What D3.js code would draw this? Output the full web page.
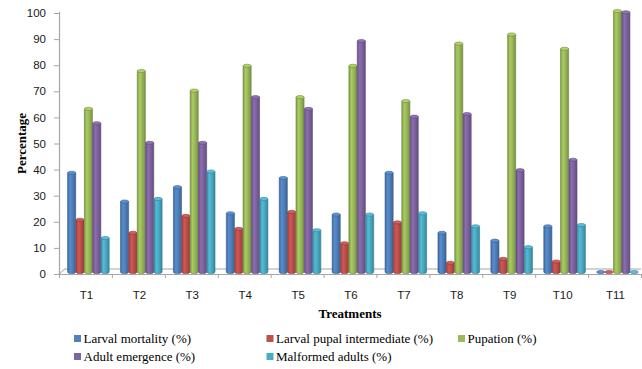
<!DOCTYPE html>
<html>
<head>
<meta charset="utf-8">
<script src="https://cdn.jsdelivr.net/npm/d3@7"></script>
<style>
  html, body { margin: 0; padding: 0; background: #fff; }
  svg { display: block; }
</style>
</head>
<body>
<svg id="chart" width="642" height="369"></svg>
<script>
// Treatment groups and the five measured responses (%)
const categories = ["T1", "T2", "T3", "T4", "T5", "T6", "T7", "T8", "T9", "T10", "T11"];
const seriesNames = ["Larval mortality (%)", "Larval pupal intermediate (%)", "Pupation (%)",
                     "Adult emergence (%)", "Malformed adults (%)"];
const larvalMortality   = [38, 27, 32.5, 22.5, 36, 22, 38, 15, 12, 17.5, 0];
const larvalPupal       = [20, 15, 21.5, 16.5, 23, 11, 19, 3.5, 5, 4, 0];
const pupation          = [62.5, 77, 69.5, 79, 67, 79, 65.5, 87.5, 91, 85.5, 100];
const adultEmergence    = [57, 49.5, 49.5, 67, 62.5, 88.5, 59.5, 60.5, 39, 43, 99.5];
const malformedAdults   = [13, 28, 38.5, 28, 16, 22, 22.5, 17.5, 9.5, 18, 0];
const yTicks = [0, 10, 20, 30, 40, 50, 60, 70, 80, 90, 100];

(function () {
const seriesValues = [larvalMortality, larvalPupal, pupation, adultEmergence, malformedAdults];
const palette = ["#4F81BD", "#C0504D", "#9BBB59", "#8064A2", "#4BACC6"];
const sansFont = "'Liberation Sans', Arial, sans-serif";
const serifFont = "'Liberation Serif', 'Times New Roman', serif";

const svg = d3.select("#chart");
const plotLeft = 59, plotRight = 641, plotTop = 13, plotBottom = 274;
const depth = 5;      // floor depth of the 3-D look
const lift = 2;       // cylinders stand in the middle of the floor
const capR = 1.6;     // vertical radius of cylinder caps

const x = d3.scaleBand().domain(categories).range([plotLeft, plotRight]);
const inner = d3.scaleBand().domain(d3.range(seriesNames.length))
  .range([8.6, 50.2]).paddingInner(0.03);
const y = d3.scaleLinear().domain([0, 100]).range([plotBottom, plotTop]);

// gradients for the cylinder bodies
const defs = svg.append("defs");
palette.forEach((c, i) => {
  const base = d3.color(c);
  const g = defs.append("linearGradient").attr("id", "cyl" + i)
    .attr("x1", "0%").attr("x2", "100%").attr("y1", "0%").attr("y2", "0%");
  g.append("stop").attr("offset", "0%").attr("stop-color", base.darker(0.6));
  g.append("stop").attr("offset", "30%").attr("stop-color", base.brighter(0.25));
  g.append("stop").attr("offset", "55%").attr("stop-color", base);
  g.append("stop").attr("offset", "100%").attr("stop-color", base.darker(0.7));
});

// floor and axes
const axisColor = "#a6a6a6";
svg.append("path")
  .attr("d", `M${plotLeft},${plotBottom} L${plotLeft + depth + 1},${plotBottom - depth} L${plotRight},${plotBottom - depth}`)
  .attr("fill", "none").attr("stroke", "#c4c4c4").attr("stroke-width", 1.6);
svg.append("line").attr("x1", plotLeft).attr("x2", plotRight).attr("y1", plotBottom + 0.5).attr("y2", plotBottom + 0.5)
  .attr("stroke", axisColor).attr("stroke-width", 1.2);
svg.append("line").attr("x1", plotLeft + 0.5).attr("x2", plotLeft + 0.5).attr("y1", plotTop - 1).attr("y2", plotBottom + 0.5)
  .attr("stroke", axisColor).attr("stroke-width", 1.2);

// y ticks and labels
const yAxis = svg.append("g");
yTicks.forEach(t => {
  yAxis.append("line").attr("x1", plotLeft - 5).attr("x2", plotLeft).attr("y1", y(t) + 0.5).attr("y2", y(t) + 0.5)
    .attr("stroke", axisColor).attr("stroke-width", 1);
  yAxis.append("text").attr("x", 46).attr("y", y(t)).attr("dy", "0.36em")
    .attr("text-anchor", "end")
    .attr("font-family", sansFont).attr("font-size", 11.5)
    .attr("fill", "#1a1a1a").text(t);
});

// x ticks at category boundaries and labels
const bounds = categories.map(c => x(c)).concat([plotRight]);
bounds.forEach(b => {
  svg.append("line").attr("x1", b + 0.5).attr("x2", b + 0.5).attr("y1", plotBottom).attr("y2", plotBottom + 4)
    .attr("stroke", axisColor).attr("stroke-width", 1);
});
categories.forEach(c => {
  svg.append("text").attr("x", x(c) + x.bandwidth() / 2 + 1).attr("y", 299)
    .attr("text-anchor", "middle")
    .attr("font-family", sansFont).attr("font-size", 11.5)
    .attr("fill", "#1a1a1a").text(c);
});

// cylinders
const bars = svg.append("g");
categories.forEach((c, ci) => {
  seriesValues.forEach((vals, si) => {
    const v = vals[ci];
    const x0 = x(c) + inner(si);
    const w = inner.bandwidth();
    const yTop = y(v) - lift;
    const yBase = y(0) - lift;
    const base = d3.color(palette[si]);
    const g = bars.append("g");
    if (yBase - yTop > 0.5) {
      g.append("path")
        .attr("d", `M${x0},${yTop} L${x0},${yBase} A${w / 2},${capR} 0 0 0 ${x0 + w},${yBase} L${x0 + w},${yTop} Z`)
        .attr("fill", `url(#cyl${si})`)
        .attr("stroke", base.darker(0.9)).attr("stroke-width", 0.6);
    }
    g.append("ellipse").attr("cx", x0 + w / 2).attr("cy", yTop).attr("rx", w / 2).attr("ry", capR)
      .attr("fill", base.brighter(0.35))
      .attr("stroke", base.darker(0.9)).attr("stroke-width", 0.6);
  });
});

// axis titles
svg.append("text")
  .attr("transform", `translate(26,${(plotTop + plotBottom) / 2}) rotate(-90)`)
  .attr("text-anchor", "middle")
  .attr("font-family", serifFont).attr("font-weight", "bold")
  .attr("font-size", 13).attr("fill", "#000").text("Percentage");
svg.append("text").attr("x", 350).attr("y", 318).attr("text-anchor", "middle")
  .attr("font-family", serifFont).attr("font-weight", "bold")
  .attr("font-size", 13).attr("fill", "#000").text("Treatments");

// legend
const legendPos = [[74, 343], [266.5, 343], [458, 343], [74, 361], [266.5, 361]];
const legend = svg.append("g");
seriesNames.forEach((name, i) => {
  const [lx, ly] = legendPos[i];
  legend.append("rect").attr("x", lx).attr("y", ly - 8).attr("width", 7).attr("height", 7)
    .attr("fill", palette[i]);
  legend.append("text").attr("x", lx + 9.5).attr("y", ly)
    .attr("font-family", serifFont).attr("font-size", 13)
    .attr("fill", "#000").text(name);
});
})();
</script>
</body>
</html>
